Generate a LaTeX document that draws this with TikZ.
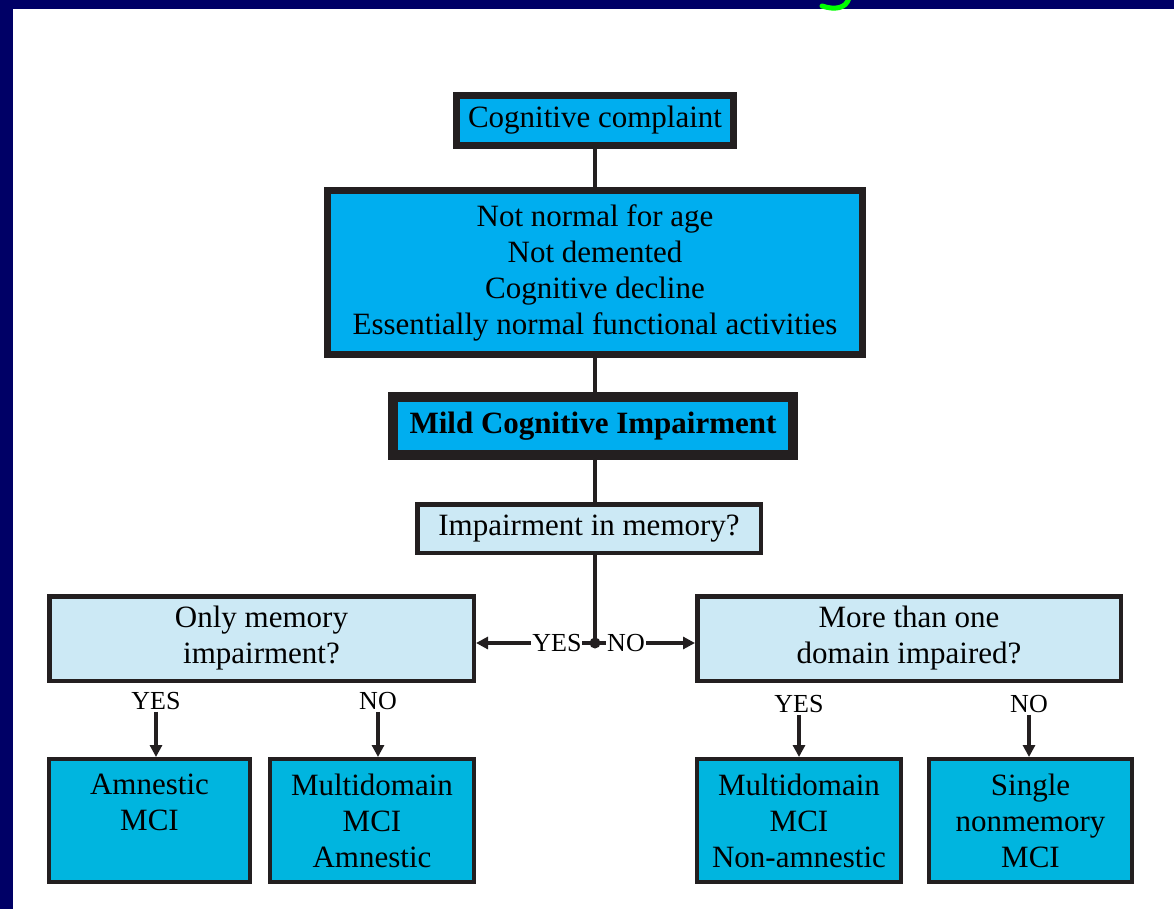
\documentclass[tikz,border=0pt]{standalone}
\usepackage{fontspec}
\setmainfont{Liberation Serif}
\usetikzlibrary{arrows.meta}
\definecolor{navyband}{HTML}{000066}
\definecolor{bord}{HTML}{231F20}
\definecolor{cyantop}{HTML}{00AEEF}
\definecolor{cyanbot}{HTML}{00B5DF}
\definecolor{lightbox}{HTML}{CCE9F5}
\definecolor{titlegreen}{HTML}{00FF00}
\begin{document}
\begin{tikzpicture}[x=1pt,y=-1pt,
  basebox/.style={draw=bord, rectangle, align=center, inner sep=0pt, text=black,
    font=\fontsize{31}{36}\selectfont},
  topbox/.style={basebox, fill=cyantop, line width=7pt},
  mcibox/.style={basebox, fill=cyantop, line width=10pt, font=\fontsize{31}{36}\selectfont\bfseries},
  qbox/.style={basebox, fill=lightbox, line width=4.5pt},
  leafbox/.style={basebox, fill=cyanbot, line width=4pt, minimum width=203pt, minimum height=123pt},
  conn/.style={draw=bord, line width=4.5pt},
  arr/.style={draw=bord, line width=4pt, -{Triangle[length=12pt,width=12pt]}},
  lab/.style={font=\fontsize{26}{30}\selectfont, text=black, inner sep=2pt},
  midlab/.style={lab, fill=white, inner sep=1pt}
]
\useasboundingbox (0,0) rectangle (1174,909);
% frame
\fill[navyband] (0,0) rectangle (1174,909);
\fill[white] (13,9) rectangle (1174,909);
\draw[titlegreen, line width=5pt, line cap=round] (849,-2) .. controls (846,9) and (834,10) .. (822,6);

% nodes
\node[topbox, minimum width=277pt, minimum height=50pt] (cc) at (595,120.5) {Cognitive complaint};
\node[topbox, minimum width=535pt, minimum height=164pt] (nn) at (595,272.5)
  {Not normal for age\\Not demented\\Cognitive decline\\Essentially normal functional activities};
\node[mcibox, minimum width=400pt, minimum height=58pt] (mci) at (593,426) {Mild Cognitive Impairment};
\node[qbox, minimum width=343.5pt, minimum height=48.5pt] (imp) at (589,528.5) {Impairment in memory?};
\node[qbox, minimum width=424.5pt, minimum height=84.5pt] (om) at (261.5,638.5) {Only memory\\impairment?};
\node[qbox, minimum width=423.5pt, minimum height=84.5pt] (mt) at (909,638.5) {More than one\\domain impaired?};

\node[leafbox, minimum width=201pt] (am) at (149.5,820.5) {Amnestic\\MCI\\\phantom{X}};
\node[leafbox, minimum width=204pt] (ma) at (372,820.5) {Multidomain\\MCI\\Amnestic};
\node[leafbox, minimum width=204pt] (mn) at (799,820.5) {Multidomain\\MCI\\Non-amnestic};
\node[leafbox, minimum width=203pt] (sn) at (1030.5,820.5) {Single\\nonmemory\\MCI};

\coordinate (j) at (595,643);

% connectors
\draw[conn] (cc.south) -- (nn.north);
\draw[conn] (nn.south) -- (nn.south |- mci.north);
\draw[conn] (mci.south -| nn.south) -- (imp.north -| nn.south);
\draw[conn] (imp.south -| j) -- (j);
\draw[arr] (j) -- node[midlab, pos=0.32] {YES} (om.east |- j);
\draw[arr] (j) -- node[midlab, pos=0.31] {NO} (mt.west |- j);
\fill[bord] (j) circle (5.5pt);

% leaf labels and arrows
\node[lab] (y1) at (156,701) {YES};
\node[lab] (n1) at (378,701) {NO};
\node[lab] (y2) at (799,704) {YES};
\node[lab] (n2) at (1029,704) {NO};
\draw[arr] (y1.south) -- (y1.south |- am.north);
\draw[arr] (n1.south) -- (n1.south |- ma.north);
\draw[arr] (y2.south) -- (y2.south |- mn.north);
\draw[arr] (n2.south) -- (n2.south |- sn.north);
\end{tikzpicture}
\end{document}
